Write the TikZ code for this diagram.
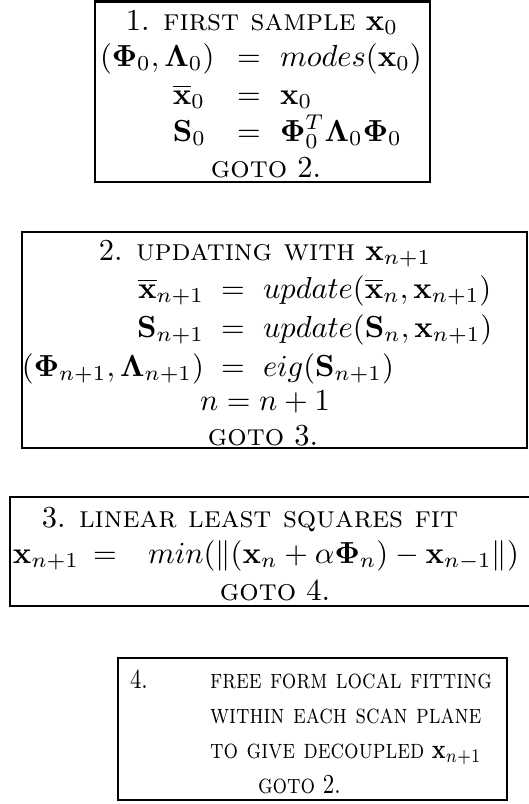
\documentclass[tikz,border=0pt]{standalone}
\usepackage{amsmath}
\begin{document}
\begin{tikzpicture}[x=0.328pt,y=-0.328pt,
  frame/.style={draw,line width=0.85pt},
  txt/.style={inner sep=0pt,outer sep=0pt},
  small/.style={txt,xscale=0.75,yscale=0.9,transform shape}]
\useasboundingbox (0,0) rectangle (528,804);

% ---- step 1 ----
\draw[frame] (95,1.3) rectangle (430,182);
\node[txt,anchor=base] (s1title) at (262,30) {1. \textsc{first sample} $\mathbf{x}_0$};
\node[txt,anchor=base west] (s1la) at (100,66) {$(\mathbf{\Phi}_0,\mathbf{\Lambda}_0)$};
\node[txt,anchor=base] (s1ea) at (249,66) {$=$};
\node[txt,anchor=base west] (s1ra) at (280,66) {$modes(\mathbf{x}_0)$};
\node[txt,anchor=base east] (s1lb) at (205,104) {$\overline{\mathbf{x}}_0$};
\node[txt,anchor=base] (s1eb) at (249,104) {$=$};
\node[txt,anchor=base west] (s1rb) at (280,104) {$\mathbf{x}_0$};
\node[txt,anchor=base east] (s1lc) at (206,141) {$\mathbf{S}_0$};
\node[txt,anchor=base] (s1ec) at (249,141) {$=$};
\node[txt,anchor=base west] (s1rc) at (280,141) {$\mathbf{\Phi}_0^T\mathbf{\Lambda}_0\mathbf{\Phi}_0$};
\node[txt,anchor=base] (s1goto) at (266,177) {\textsc{goto} 2.};

% ---- step 2 ----
\draw[frame] (22,232) rectangle (527,448);
\node[txt,anchor=base] (s2title) at (265,260) {2. \textsc{updating with} $\mathbf{x}_{n+1}$};
\node[txt,anchor=base east] (s2la) at (204,298) {$\overline{\mathbf{x}}_{n+1}$};
\node[txt,anchor=base] (s2ea) at (233,298) {$=$};
\node[txt,anchor=base west] (s2ra) at (263,298) {$update(\overline{\mathbf{x}}_n,\mathbf{x}_{n+1})$};
\node[txt,anchor=base east] (s2lb) at (204,337) {$\mathbf{S}_{n+1}$};
\node[txt,anchor=base] (s2eb) at (233,337) {$=$};
\node[txt,anchor=base west] (s2rb) at (263,337) {$update(\mathbf{S}_n,\mathbf{x}_{n+1})$};
\node[txt,anchor=base east] (s2lc) at (204,376) {$(\mathbf{\Phi}_{n+1},\mathbf{\Lambda}_{n+1})$};
\node[txt,anchor=base] (s2ec) at (233,376) {$=$};
\node[txt,anchor=base west] (s2rc) at (263,376) {$eig(\mathbf{S}_{n+1})$};
\node[txt,anchor=base] (s2inc) at (265,410) {$n=n+1$};
\node[txt,anchor=base] (s2goto) at (263,445) {\textsc{goto} 3.};

% ---- step 3 ----
\draw[frame] (10,497) rectangle (540,606);
\node[txt,anchor=base] (s3title) at (250,527) {3. \textsc{linear least squares fit}};
\node[txt,anchor=base west] (s3l) at (13,563) {$\mathbf{x}_{n+1}$};
\node[txt,anchor=base] (s3e) at (105,563) {$=$};
\node[txt,anchor=base west] (s3r) at (148,563) {$min(\|(\mathbf{x}_n+\alpha\mathbf{\Phi}_n)-\mathbf{x}_{n-1}\|)$};
\node[txt,anchor=base] (s3goto) at (275,600) {\textsc{goto} 4.};

% ---- step 4 ----
\draw[frame] (118,658) rectangle (507,800);
\node[small,anchor=base west] (s4num) at (130,688) {4.};
\node[small,anchor=base west] (s4a) at (210,688) {\textsc{free form local fitting}};
\node[small,anchor=base west] (s4b) at (210,723) {\textsc{within each scan plane}};
\node[small,anchor=base west] (s4c) at (210,758) {\textsc{to give decoupled} $\mathbf{x}_{n+1}$};
\node[small,anchor=base west] (s4goto) at (258,793) {\textsc{goto} 2.};
\end{tikzpicture}
\end{document}
